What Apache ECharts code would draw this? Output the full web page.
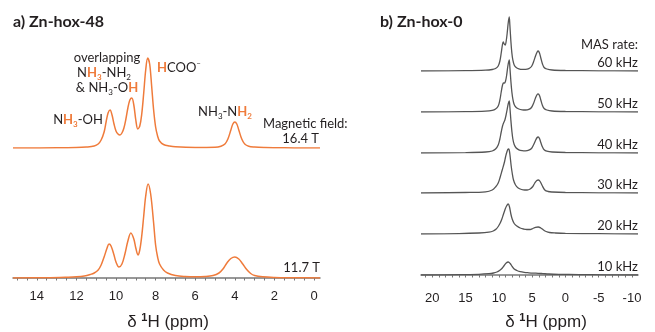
<!DOCTYPE html>
<html>
<head>
<meta charset="utf-8">
<script src="https://cdn.jsdelivr.net/npm/echarts@6/dist/echarts.min.js"></script>
<style>
html,body{margin:0;padding:0;background:#fff;}
#chart{width:655px;height:332px;}
</style>
</head>
<body>
<div id="chart"></div>
<script>
// a) Zn-hox-48, [ppm, intensity]
var field164 = [[15.2,0],[13,0.2],[12,0.5],[11.5,1],[11.1,2],[10.9,4],[10.75,8],[10.6,16],[10.5,26],[10.4,35],[10.3,38],[10.2,33],[10.1,24],[10.0,17],[9.9,14],[9.8,13],[9.7,15],[9.6,20],[9.5,29],[9.4,40],[9.3,48],[9.2,50],[9.1,43],[9.0,28],[8.9,19],[8.8,22],[8.7,34],[8.6,55],[8.5,78],[8.4,90],[8.3,84],[8.2,62],[8.1,38],[8.0,21],[7.9,12],[7.8,7],[7.6,3.5],[7.3,2],[7,1.2],[6,0.6],[5,0.8],[4.7,1.8],[4.5,4],[4.35,9],[4.2,18],[4.1,24],[4.0,26],[3.9,24],[3.8,18],[3.65,9],[3.5,4],[3.3,1.8],[3,1],[2.5,0.5],[2,0.3],[1,0.1],[-0.3,0]];
var field117 = [[15.2,0],[13.5,0.3],[12.5,0.8],[12,1.2],[11.6,2],[11.3,3.5],[11.1,5],[10.9,8],[10.75,13],[10.6,21],[10.45,30],[10.35,34],[10.25,32],[10.1,23],[10.0,16],[9.85,11],[9.7,14],[9.55,24],[9.4,37],[9.25,45],[9.1,39],[9.0,30],[8.89,23],[8.8,28],[8.7,42],[8.6,62],[8.5,82],[8.38,94],[8.25,84],[8.1,55],[8.0,33],[7.9,21],[7.8,14],[7.6,8],[7.4,5],[7.0,2.5],[6.5,1.5],[6,1.2],[5.5,1.5],[5.1,2.5],[4.8,5],[4.6,9],[4.4,15],[4.2,19.5],[4.0,21],[3.8,19],[3.6,14],[3.4,8.5],[3.2,4.5],[3.0,2.5],[2.6,1.2],[2,0.6],[1,0.3],[-0.3,0]];

// b) Zn-hox-0 at different MAS rates
var mas60 = [[21.7,0],[15,0.3],[12,0.8],[11,1.5],[10.5,2.5],[10.1,5],[9.85,10],[9.65,18],[9.45,27],[9.35,29],[9.2,27],[9.05,26],[8.9,30],[8.75,38],[8.6,48],[8.45,54],[8.35,46],[8.2,30],[8.05,18],[7.9,11],[7.7,6],[7.4,3.5],[7,2.2],[6.5,1.6],[6,1.6],[5.5,2.3],[5.1,4.5],[4.8,9],[4.5,15],[4.25,19],[4.1,20],[3.9,18],[3.7,13],[3.45,7],[3.2,3.5],[2.8,2],[2,1],[0,0.5],[-5,0.2],[-10.9,0]];
var mas50 = [[21.7,0],[15,0.3],[12,0.8],[11,1.6],[10.5,3],[10.1,6],[9.85,12],[9.65,20],[9.45,27],[9.3,29],[9.15,29],[9.0,31],[8.85,36],[8.65,46],[8.45,52],[8.35,45],[8.2,31],[8.05,20],[7.9,13],[7.7,7.5],[7.4,4.5],[7,3],[6.5,2.2],[6,2],[5.5,2.6],[5.1,4.5],[4.8,8.5],[4.5,14],[4.25,17.5],[4.1,18],[3.9,16.5],[3.7,12],[3.45,6.5],[3.2,3.5],[2.8,2],[2,1],[0,0.5],[-5,0.2],[-10.9,0]];
var mas40 = [[21.7,0],[15,0.4],[12,1],[11,2],[10.5,4],[10.1,8],[9.85,14],[9.65,21],[9.45,27],[9.3,30],[9.1,33],[8.95,37],[8.8,42],[8.6,49],[8.45,52],[8.35,46],[8.2,33],[8.05,22],[7.9,14],[7.7,8.5],[7.4,5],[7,3.2],[6.5,2.4],[6,2.2],[5.5,2.8],[5.1,4.5],[4.8,8],[4.5,12.5],[4.25,15.5],[4.1,16],[3.9,14.5],[3.7,10.5],[3.45,6],[3.2,3.2],[2.8,1.8],[2,1],[0,0.5],[-5,0.2],[-10.9,0]];
var mas30 = [[21.7,0],[15,0.5],[12,1.2],[11,3],[10.5,6],[10.1,10],[9.8,16],[9.5,23],[9.2,30],[9.0,36],[8.8,41],[8.6,44],[8.45,43],[8.3,36],[8.15,27],[8.0,20],[7.8,13],[7.5,8],[7.1,5],[6.6,3.5],[6.1,3],[5.75,3],[5.3,4],[4.9,6.5],[4.6,10],[4.3,12.5],[4.05,13],[3.8,11.5],[3.5,7.5],[3.1,3],[2.6,1.5],[2,1],[0,0.5],[-5,0.2],[-10.9,0]];
var mas20 = [[21.7,0],[16,0.4],[13,1],[11.5,1.8],[10.85,3],[10.4,5],[10.1,7.5],[9.8,11],[9.55,15],[9.35,19],[9.1,24],[8.85,28],[8.6,30],[8.4,27],[8.2,20],[8.0,15],[7.7,10.5],[7.3,8],[6.8,6],[6.3,5],[5.8,4.5],[5.3,4.5],[4.9,5.5],[4.5,6.7],[4.1,7],[3.7,6],[3.3,4],[2.9,2.5],[2.4,1.5],[1.5,1],[0,0.6],[-5,0.3],[-10.9,0]];
var mas10 = [[21.7,0],[16,0.3],[13,0.7],[11.5,1.3],[10.8,2],[10.3,3],[9.9,4.5],[9.55,6.5],[9.2,9.5],[8.9,12],[8.6,13],[8.3,11.5],[8.0,8.5],[7.7,6],[7.3,4.5],[6.8,3.3],[6.2,2.6],[5.5,2.2],[4.8,1.9],[4.1,1.7],[3.4,1.4],[2.5,1],[1,0.7],[-2,0.4],[-6,0.2],[-10.9,0]];

var fieldLabels = ['16.4 T', '11.7 T'];
var masLabels = ['60 kHz', '50 kHz', '40 kHz', '30 kHz', '20 kHz', '10 kHz'];
var ticksA = [14, 12, 10, 8, 6, 4, 2, 0];
var ticksB = [20, 15, 10, 5, 0, -5, -10];

var ORANGE = '#ef7b3b', GREY = '#555', TXT = '#231f20';
var FONT = 'Lato, "Open Sans", sans-serif';
var AXFONT = '"Liberation Sans", Arial, sans-serif';

var panelA = {left: 13, width: 307, min: -0.3, max: 15.2, h: 100, base: [148, 278], off: 6};
var panelB = {left: 421, width: 217, min: -10.9, max: 21.7, h: 60, base: [71, 112, 153, 193, 234, 275], off: 11};

var grid = [], xAxis = [], yAxis = [], series = [];

function minorTicks(from, to, step) {
  var out = [];
  for (var v = from; v <= to + 1e-9; v += step) out.push(+v.toFixed(2));
  return out;
}

function addTrace(p, i, data, color, width, last, labels, tickVals) {
  var idx = grid.length;
  grid.push({left: p.left, width: p.width, top: p.base[i] - p.h, height: p.h});
  xAxis.push({
    type: 'value', gridIndex: idx, inverse: true, min: p.min, max: p.max,
    show: last, offset: p.off,
    axisLine: {show: true, lineStyle: {color: '#777', width: 1.5}},
    axisTick: {show: true, length: 2.5, customValues: tickVals, lineStyle: {color: '#777'}},
    axisLabel: {customValues: labels, margin: 6, color: TXT, fontSize: 13, fontFamily: AXFONT},
    splitLine: {show: false}
  });
  yAxis.push({type: 'value', gridIndex: idx, min: 0, max: p.h, show: false});
  series.push({
    type: 'line', xAxisIndex: idx, yAxisIndex: idx, data: data,
    showSymbol: false, smooth: 0.35, silent: true,
    lineStyle: {color: color, width: width}
  });
}

addTrace(panelA, 0, field164, ORANGE, 1.5, false);
addTrace(panelA, 1, field117, ORANGE, 1.5, true, ticksA, minorTicks(0, 15, 0.5));
[mas60, mas50, mas40, mas30, mas20, mas10].forEach(function (d, i) {
  addTrace(panelB, i, d, GREY, 1.3, i === 5, ticksB, minorTicks(-10, 21, 1));
});

var rich = {
  n: {fontSize: 13, fontFamily: FONT, fill: TXT, lineHeight: 17},
  o: {fontSize: 13, fontFamily: FONT, fill: ORANGE, fontWeight: 'bold', lineHeight: 17},
  s: {fontSize: 8, fontFamily: FONT, fill: TXT, lineHeight: 8, verticalAlign: 'bottom'},
  so: {fontSize: 8, fontFamily: FONT, fill: ORANGE, fontWeight: 'bold', lineHeight: 8, verticalAlign: 'bottom'},
  sup: {fontSize: 8, fontFamily: FONT, fill: TXT, lineHeight: 8, verticalAlign: 'top'},
  t: {fontSize: 17, fontFamily: AXFONT, fill: TXT, lineHeight: 20},
  tsup: {fontSize: 11, fontFamily: AXFONT, fill: TXT, fontWeight: 'bold', lineHeight: 11, verticalAlign: 'top'}
};

function txt(x, y, text, align, extra) {
  var st = {text: text, x: 0, y: 0, fill: TXT, font: '13px ' + FONT,
    align: align || 'left', verticalAlign: 'middle',
    textAlign: align || 'left', textVerticalAlign: 'middle', rich: rich};
  for (var k in extra) st[k] = extra[k];
  return {type: 'text', x: x, y: y, silent: true, style: st};
}

var graphic = [
  txt(13, 22, 'a) Zn-hox-48', 'left', {font: 'bold 16px ' + FONT}),
  txt(380, 22, 'b) Zn-hox-0', 'left', {font: 'bold 16px ' + FONT}),
  txt(107, 58, '{n|overlapping}', 'center'),
  txt(104, 73, '{n|N}{o|H}{so|3}{n|-NH}{s|2}', 'center'),
  txt(107, 88, '{n|& NH}{s|3}{n|-O}{o|H}', 'center'),
  txt(78, 120, '{n|N}{o|H}{so|3}{n|-OH}', 'center'),
  txt(157, 68, '{o|H}{n|COO}{sup|\u2013}', 'left'),
  txt(225, 112, '{n|NH}{s|3}{n|-N}{o|H}{so|2}', 'center'),
  txt(263, 124, 'Magnetic field:', 'left'),
  txt(319, 139, fieldLabels[0], 'right'),
  txt(320, 268, fieldLabels[1], 'right'),
  txt(638, 45, 'MAS rate:', 'right'),
  txt(168, 322, '{t|\u03b4 }{tsup|1}{t|H (ppm)}', 'center'),
  txt(546, 322, '{t|\u03b4 }{tsup|1}{t|H (ppm)}', 'center')
];
masLabels.forEach(function (s, i) {
  graphic.push(txt(638, panelB.base[i] - 8, s, 'right'));
});

var chart = echarts.init(document.getElementById('chart'));
chart.setOption({
  animation: false,
  backgroundColor: '#fff',
  grid: grid,
  xAxis: xAxis,
  yAxis: yAxis,
  series: series,
  graphic: graphic
});
</script>
</body>
</html>
